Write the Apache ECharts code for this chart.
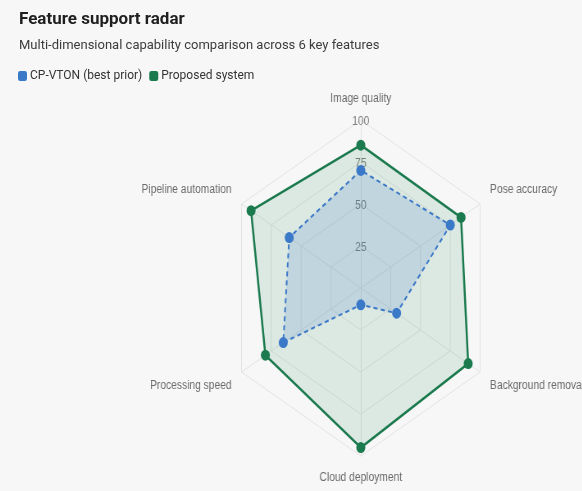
<!DOCTYPE html>
<html>
<head>
<meta charset="utf-8">
<script src="https://cdn.jsdelivr.net/npm/echarts@6/dist/echarts.min.js"></script>
<style>
  html, body { margin: 0; padding: 0; background: #f7f7f7; width: 582px; height: 491px; overflow: hidden; }
  #head { position: absolute; left: 0; top: 0; width: 582px; height: 90px; }
  #radar { position: absolute; left: 0; top: 90px; width: 710px; height: 401px; transform-origin: 0 0; transform: scaleX(0.82); }
</style>
</head>
<body>
<div id="radar"></div>
<div id="head"></div>
<script>
// ---- data (ECharts radar lays indicators out counter-clockwise from the top) ----
const titleText = 'Feature support radar';
const subtitleText = 'Multi-dimensional capability comparison across 6 key features';
const features = ['Image quality', 'Pipeline automation', 'Processing speed', 'Cloud deployment', 'Background removal', 'Pose accuracy'];
const seriesNames = ['CP-VTON (best prior)', 'Proposed system'];
const cpvton = [70, 60, 65, 10, 30, 75];
const proposed = [85, 92, 80, 95, 90, 84];
const tickValues = [25, 50, 75, 100];
const colors = ['#3a78c8', '#1b7a4e'];

// ---- header (title + legend) ----
const head = echarts.init(document.getElementById('head'), null, { renderer: 'canvas' });
head.setOption({
  backgroundColor: 'transparent',
  title: {
    left: 14, top: 6,
    text: titleText,
    subtext: subtitleText,
    itemGap: 11,
    textStyle: { fontFamily: 'Roboto', fontSize: 17, fontWeight: 'bold', color: '#1f1f1f' },
    subtextStyle: { fontFamily: 'Roboto', fontSize: 13, color: '#3c3c3c' }
  },
  legend: {
    left: 13, top: 65,
    itemWidth: 9, itemHeight: 10, itemGap: 7,
    icon: 'roundRect',
    textStyle: { fontFamily: 'Roboto', fontSize: 12, color: '#333', padding: [0, 0, 0, -2] },
    data: seriesNames
  },
  grid: { left: 0, top: 0, width: 1, height: 1, show: false },
  xAxis: { show: false, type: 'category', data: [] },
  yAxis: { show: false, type: 'value' },
  series: seriesNames.map((n, i) => ({ name: n, type: 'line', data: [], itemStyle: { color: colors[i] } }))
});

// ---- radar ----
const upperSide = [1, 5], lowerSide = [2, 4];
const chart = echarts.init(document.getElementById('radar'), null, { renderer: 'canvas' });
chart.setOption({
  backgroundColor: 'transparent',
  radar: {
    center: [440, 198],
    radius: 168,
    startAngle: 90,
    splitNumber: tickValues.length,
    nameGap: 14,
    axisName: {
      color: '#6a6a6a', fontSize: 12.5, fontFamily: 'Liberation Sans',
      formatter: function (name) {
        const i = features.indexOf(name);
        if (upperSide.indexOf(i) >= 0) return '{n|' + name + '}\n{g| }';
        if (lowerSide.indexOf(i) >= 0) return '{g| }\n{n|' + name + '}';
        return '{n|' + name + '}';
      },
      rich: {
        n: { color: '#6a6a6a', fontSize: 12.5, fontFamily: 'Liberation Sans', lineHeight: 15 },
        g: { fontSize: 4, lineHeight: 14 }
      }
    },
    splitLine: { lineStyle: { color: '#e3e3e3', width: 1 } },
    splitArea: { show: false },
    axisLine: { lineStyle: { color: '#e3e3e3', width: 1 } },
    axisLabel: { show: false },
    indicator: features.map((f, i) => ({
      name: f, min: 0, max: 100,
      axisLabel: i === 0 ? {
        show: true, margin: 0, align: 'center', verticalAlign: 'middle',
        formatter: v => (tickValues.indexOf(v) >= 0 ? '{g| }\n{t|' + v + '}' : ''),
        rich: {
          g: { fontSize: 2, lineHeight: 4 },
          t: { color: '#808080', fontSize: 12.5, fontFamily: 'Liberation Sans', lineHeight: 14 }
        }
      } : { show: false }
    }))
  },
  series: [
    {
      name: seriesNames[1], type: 'radar', z: 2,
      symbol: 'circle', symbolSize: 11,
      lineStyle: { color: colors[1], width: 2.5 },
      itemStyle: { color: colors[1] },
      areaStyle: { color: colors[1], opacity: 0.12 },
      data: [{ name: seriesNames[1], value: proposed }]
    },
    {
      name: seriesNames[0], type: 'radar', z: 3,
      symbol: 'circle', symbolSize: 11,
      lineStyle: { color: colors[0], width: 2, type: [5, 4] },
      itemStyle: { color: colors[0] },
      areaStyle: { color: colors[0], opacity: 0.17 },
      data: [{ name: seriesNames[0], value: cpvton }]
    }
  ]
});
echarts.connect([head, chart]);
</script>
</body>
</html>
